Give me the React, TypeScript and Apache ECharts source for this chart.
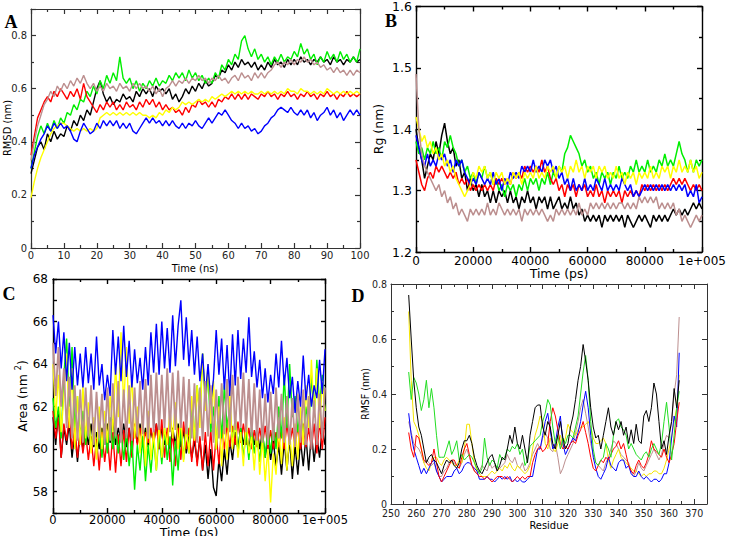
import React, { useEffect, useRef } from 'react';
import * as echarts from 'echarts';

// ---------------- Panel A : RMSD (nm) vs Time (ns), one value per ns ----------------
const A_START = 0;
const A_STEP = 1;
const rmsdBlack = [0.28,0.33,0.38,0.40,0.37,0.43,0.40,0.44,0.41,0.43,
 0.42,0.46,0.44,0.48,0.46,0.50,0.48,0.52,0.50,0.55,
 0.60,0.63,0.58,0.55,0.57,0.54,0.56,0.55,0.58,0.56,
 0.57,0.55,0.59,0.57,0.60,0.58,0.60,0.57,0.61,0.59,
 0.60,0.58,0.60,0.56,0.58,0.55,0.57,0.60,0.58,0.61,
 0.59,0.62,0.60,0.63,0.61,0.62,0.65,0.64,0.67,0.66,
 0.69,0.67,0.70,0.68,0.71,0.69,0.70,0.68,0.70,0.67,
 0.69,0.67,0.70,0.68,0.71,0.69,0.70,0.68,0.71,0.69,
 0.71,0.69,0.72,0.70,0.71,0.69,0.71,0.70,0.72,0.70,
 0.71,0.69,0.72,0.70,0.71,0.69,0.71,0.70,0.72,0.70,
 0.71];
const rmsdGreen = [0.30,0.36,0.42,0.46,0.43,0.47,0.44,0.48,0.45,0.49,
 0.47,0.51,0.50,0.54,0.52,0.56,0.55,0.59,0.57,0.61,
 0.58,0.63,0.60,0.65,0.62,0.66,0.63,0.72,0.64,0.62,
 0.64,0.60,0.63,0.59,0.62,0.60,0.63,0.61,0.64,0.61,
 0.63,0.62,0.65,0.63,0.66,0.64,0.66,0.63,0.67,0.64,
 0.66,0.63,0.65,0.62,0.64,0.62,0.66,0.64,0.69,0.67,
 0.71,0.69,0.73,0.71,0.78,0.80,0.75,0.72,0.75,0.71,
 0.73,0.70,0.72,0.69,0.72,0.70,0.73,0.70,0.72,0.71,
 0.74,0.72,0.77,0.73,0.75,0.71,0.73,0.69,0.72,0.70,
 0.74,0.71,0.73,0.70,0.74,0.71,0.73,0.70,0.72,0.70,
 0.75];
const rmsdBrown = [0.33,0.40,0.46,0.50,0.54,0.56,0.59,0.57,0.61,0.59,
 0.62,0.60,0.63,0.61,0.64,0.62,0.65,0.62,0.60,0.62,
 0.59,0.61,0.59,0.62,0.60,0.61,0.59,0.62,0.60,0.61,
 0.59,0.62,0.60,0.62,0.60,0.61,0.59,0.61,0.58,0.60,
 0.57,0.60,0.61,0.63,0.61,0.63,0.62,0.64,0.62,0.64,
 0.63,0.65,0.63,0.64,0.62,0.64,0.63,0.65,0.63,0.64,
 0.62,0.64,0.65,0.63,0.66,0.64,0.65,0.63,0.66,0.64,
 0.66,0.64,0.66,0.67,0.69,0.70,0.68,0.70,0.69,0.71,
 0.69,0.71,0.70,0.72,0.70,0.71,0.69,0.70,0.68,0.69,
 0.67,0.68,0.66,0.68,0.66,0.67,0.65,0.67,0.65,0.67,
 0.66];
const rmsdRed = [0.35,0.42,0.49,0.52,0.55,0.57,0.55,0.59,0.57,0.60,
 0.58,0.56,0.59,0.57,0.60,0.56,0.62,0.57,0.55,0.53,
 0.51,0.54,0.52,0.55,0.53,0.55,0.52,0.54,0.52,0.55,
 0.53,0.54,0.52,0.55,0.53,0.56,0.54,0.56,0.53,0.55,
 0.52,0.54,0.52,0.53,0.51,0.52,0.50,0.53,0.51,0.54,
 0.53,0.56,0.54,0.55,0.53,0.55,0.53,0.56,0.55,0.57,
 0.56,0.58,0.56,0.58,0.56,0.58,0.56,0.58,0.57,0.56,
 0.58,0.57,0.59,0.57,0.58,0.56,0.58,0.57,0.59,0.57,
 0.58,0.56,0.58,0.57,0.59,0.57,0.58,0.56,0.58,0.57,
 0.59,0.57,0.58,0.56,0.58,0.57,0.59,0.57,0.58,0.57,
 0.58];
const rmsdYellow = [0.19,0.25,0.30,0.34,0.37,0.40,0.43,0.45,0.46,0.47,
 0.47,0.46,0.45,0.44,0.45,0.44,0.45,0.44,0.45,0.44,
 0.45,0.49,0.50,0.51,0.50,0.51,0.50,0.51,0.50,0.51,
 0.50,0.51,0.50,0.51,0.50,0.50,0.49,0.50,0.49,0.51,
 0.50,0.52,0.51,0.53,0.52,0.53,0.55,0.54,0.55,0.54,
 0.55,0.56,0.55,0.56,0.55,0.57,0.56,0.57,0.58,0.57,
 0.58,0.59,0.58,0.59,0.58,0.59,0.58,0.59,0.58,0.58,
 0.59,0.58,0.59,0.58,0.59,0.58,0.59,0.58,0.60,0.59,
 0.59,0.58,0.60,0.59,0.59,0.58,0.59,0.58,0.59,0.58,
 0.60,0.59,0.58,0.59,0.58,0.59,0.58,0.59,0.58,0.59,
 0.58];
const rmsdBlue = [0.30,0.35,0.38,0.41,0.43,0.46,0.44,0.47,0.45,0.47,
 0.45,0.46,0.44,0.41,0.40,0.44,0.47,0.45,0.43,0.44,
 0.47,0.45,0.48,0.46,0.48,0.46,0.48,0.45,0.47,0.45,
 0.47,0.44,0.43,0.45,0.47,0.49,0.47,0.49,0.47,0.48,
 0.46,0.48,0.46,0.48,0.46,0.45,0.47,0.45,0.47,0.46,
 0.48,0.46,0.45,0.47,0.49,0.47,0.49,0.51,0.50,0.52,
 0.50,0.48,0.47,0.45,0.47,0.45,0.46,0.44,0.45,0.43,
 0.44,0.46,0.47,0.49,0.50,0.52,0.53,0.52,0.51,0.53,
 0.51,0.50,0.52,0.50,0.52,0.49,0.51,0.48,0.50,0.51,
 0.53,0.50,0.52,0.49,0.51,0.48,0.50,0.52,0.50,0.52,
 0.50];

// ---------------- Panel B : Rg (nm) vs Time (ps), one value per 1000 ps ----------------
const B_START = 0;
const B_STEP = 1000;
const rgBlack = [1.40,1.37,1.35,1.32,1.34,1.36,1.35,1.38,1.36,1.39,
 1.41,1.38,1.36,1.37,1.34,1.35,1.32,1.33,1.30,1.32,
 1.30,1.31,1.29,1.31,1.29,1.30,1.28,1.30,1.28,1.30,
 1.29,1.30,1.28,1.30,1.28,1.29,1.27,1.29,1.28,1.30,
 1.28,1.29,1.27,1.29,1.28,1.29,1.27,1.29,1.27,1.28,
 1.29,1.27,1.28,1.27,1.29,1.27,1.28,1.26,1.27,1.25,
 1.26,1.25,1.26,1.25,1.26,1.24,1.26,1.25,1.26,1.25,
 1.26,1.25,1.26,1.24,1.26,1.25,1.24,1.25,1.26,1.25,
 1.26,1.25,1.24,1.26,1.25,1.26,1.25,1.26,1.25,1.26,
 1.27,1.26,1.27,1.26,1.27,1.26,1.27,1.28,1.27,1.28,
 1.27];
const rgGreen = [1.38,1.36,1.37,1.35,1.37,1.36,1.38,1.36,1.37,1.35,
 1.38,1.37,1.39,1.37,1.36,1.34,1.35,1.33,1.34,1.32,
 1.33,1.31,1.33,1.32,1.34,1.32,1.33,1.31,1.32,1.30,
 1.31,1.29,1.31,1.30,1.31,1.29,1.31,1.30,1.32,1.30,
 1.32,1.31,1.32,1.30,1.32,1.31,1.33,1.31,1.33,1.32,
 1.34,1.33,1.36,1.37,1.39,1.38,1.37,1.36,1.34,1.35,
 1.33,1.34,1.32,1.33,1.31,1.33,1.32,1.33,1.31,1.33,
 1.32,1.34,1.32,1.33,1.32,1.34,1.33,1.35,1.33,1.34,
 1.33,1.35,1.33,1.34,1.33,1.35,1.34,1.36,1.34,1.35,
 1.34,1.36,1.38,1.36,1.35,1.33,1.35,1.33,1.35,1.34,
 1.35];
const rgYellow = [1.42,1.40,1.38,1.39,1.37,1.38,1.36,1.37,1.35,1.36,
 1.34,1.35,1.33,1.34,1.32,1.31,1.30,1.29,1.30,1.31,
 1.33,1.32,1.34,1.33,1.34,1.32,1.33,1.31,1.33,1.32,
 1.33,1.31,1.32,1.31,1.33,1.32,1.33,1.31,1.33,1.32,
 1.33,1.32,1.34,1.32,1.33,1.32,1.34,1.33,1.34,1.32,
 1.34,1.33,1.34,1.32,1.34,1.33,1.35,1.33,1.34,1.32,
 1.34,1.33,1.34,1.32,1.34,1.33,1.34,1.32,1.33,1.32,
 1.34,1.32,1.33,1.31,1.33,1.32,1.33,1.31,1.33,1.32,
 1.33,1.32,1.34,1.32,1.33,1.32,1.34,1.33,1.34,1.32,
 1.34,1.33,1.35,1.33,1.34,1.33,1.35,1.33,1.34,1.32,
 1.33];
const rgBlue = [1.39,1.37,1.35,1.34,1.36,1.34,1.35,1.34,1.36,1.35,
 1.36,1.34,1.35,1.33,1.35,1.34,1.35,1.33,1.32,1.31,
 1.32,1.31,1.33,1.32,1.31,1.32,1.31,1.33,1.31,1.32,
 1.30,1.32,1.31,1.33,1.32,1.33,1.32,1.34,1.33,1.34,
 1.33,1.35,1.33,1.34,1.33,1.35,1.34,1.35,1.33,1.34,
 1.32,1.33,1.31,1.32,1.30,1.32,1.30,1.31,1.30,1.32,
 1.30,1.31,1.30,1.32,1.31,1.30,1.32,1.30,1.31,1.30,
 1.31,1.30,1.32,1.31,1.30,1.31,1.29,1.30,1.29,1.30,
 1.31,1.30,1.31,1.30,1.31,1.30,1.31,1.30,1.31,1.30,
 1.31,1.30,1.31,1.30,1.31,1.29,1.30,1.29,1.31,1.28,
 1.29];
const rgRed = [1.35,1.33,1.31,1.30,1.32,1.33,1.32,1.34,1.33,1.34,
 1.33,1.32,1.33,1.32,1.33,1.31,1.32,1.31,1.32,1.30,
 1.31,1.30,1.31,1.30,1.31,1.30,1.31,1.30,1.32,1.31,
 1.32,1.31,1.32,1.31,1.33,1.32,1.33,1.32,1.34,1.33,
 1.34,1.33,1.34,1.33,1.35,1.33,1.34,1.32,1.31,1.32,
 1.30,1.31,1.29,1.31,1.30,1.31,1.29,1.31,1.30,1.31,
 1.29,1.30,1.29,1.31,1.29,1.30,1.28,1.30,1.29,1.30,
 1.29,1.30,1.28,1.30,1.29,1.30,1.29,1.30,1.29,1.31,
 1.30,1.31,1.30,1.31,1.30,1.31,1.30,1.31,1.30,1.31,
 1.32,1.31,1.32,1.31,1.32,1.31,1.30,1.31,1.30,1.31,
 1.30];
const rgBrown = [1.49,1.40,1.36,1.34,1.33,1.32,1.31,1.30,1.31,1.29,
 1.30,1.28,1.29,1.27,1.28,1.26,1.27,1.26,1.25,1.27,
 1.26,1.27,1.26,1.27,1.26,1.28,1.26,1.27,1.26,1.28,
 1.27,1.26,1.27,1.26,1.27,1.26,1.27,1.25,1.27,1.26,
 1.27,1.26,1.27,1.26,1.27,1.26,1.25,1.26,1.25,1.27,
 1.26,1.27,1.26,1.27,1.26,1.27,1.26,1.28,1.26,1.27,
 1.26,1.28,1.27,1.28,1.27,1.28,1.27,1.28,1.27,1.28,
 1.27,1.28,1.28,1.27,1.28,1.27,1.28,1.27,1.29,1.28,
 1.29,1.28,1.29,1.28,1.29,1.27,1.28,1.27,1.28,1.27,
 1.28,1.26,1.27,1.25,1.26,1.25,1.24,1.25,1.26,1.25,
 1.26];

// ---------------- Panel C : SASA area (nm^2) vs Time (ps), one value per 1000 ps ----------------
const C_START = 0;
const C_STEP = 1000;
const areaBlue = [66.3,64.5,66.0,63.8,65.5,63.2,65.0,62.8,64.8,63.0,
 64.5,62.9,64.8,63.1,64.5,62.8,65.3,63.0,64.0,62.3,
 63.5,62.5,65.6,63.5,65.3,63.2,65.8,63.4,65.1,62.9,
 64.7,63.1,64.3,62.8,64.8,63.0,65.5,63.6,65.9,63.5,
 66.0,63.8,65.7,63.6,66.3,63.9,65.8,67.0,64.2,66.2,
 63.9,65.6,63.5,65.3,63.2,64.5,62.5,64.0,62.2,63.3,
 65.6,63.5,65.2,62.8,64.9,62.5,65.4,63.0,65.6,63.3,
 65.2,63.6,66.2,63.4,64.6,62.9,64.2,62.4,63.8,62.2,
 63.5,62.6,64.5,62.9,65.1,63.0,64.3,62.4,63.4,61.7,
 63.2,62.0,64.4,62.3,63.5,62.0,63.0,62.4,64.2,62.6,
 64.7];
const areaBrown = [65.0,62.5,64.8,62.0,63.8,61.0,63.4,60.5,63.0,60.4,
 62.8,60.3,62.9,60.6,63.0,60.2,62.7,60.5,62.6,60.2,
 62.9,60.4,63.1,60.6,63.2,60.3,62.8,60.5,63.0,60.4,
 62.9,60.6,63.2,60.7,63.3,60.5,63.5,60.8,63.6,60.9,
 63.5,61.0,63.8,60.8,63.6,60.9,63.7,61.0,63.4,60.7,
 63.3,60.5,63.1,60.3,62.9,60.4,63.2,60.6,63.0,60.3,
 62.8,60.5,63.1,60.7,63.3,60.8,63.5,60.9,63.4,61.0,
 63.6,60.8,63.3,60.6,63.1,60.4,62.8,60.3,62.6,60.2,
 62.7,60.4,62.9,60.5,62.6,60.3,62.5,60.2,62.4,60.1,
 62.6,60.3,62.8,60.2,62.5,60.0,62.3,60.2,62.6,60.5,
 62.9];
const areaYellow = [64.0,61.5,63.5,60.8,62.5,64.5,61.0,63.8,60.0,62.5,
 60.2,63.0,60.5,62.2,59.8,61.5,59.5,62.0,60.0,61.8,
 60.3,62.5,60.8,64.0,61.5,65.5,62.0,64.8,61.2,63.5,
 60.5,62.0,59.8,61.5,59.2,61.8,59.5,60.8,59.0,61.2,
 59.6,61.0,60.2,61.8,60.5,62.2,60.0,61.5,59.4,61.0,
 59.8,62.5,60.4,63.0,61.0,64.5,61.8,64.0,61.2,63.2,
 60.0,62.0,59.2,61.5,59.5,62.8,60.0,61.5,59.6,60.8,
 59.2,61.4,59.8,60.6,59.0,61.0,58.8,60.5,58.5,60.0,
 57.5,59.8,58.8,61.0,59.3,61.5,59.0,60.8,59.2,61.2,
 59.5,62.0,60.2,63.0,61.0,64.2,61.5,63.8,61.0,63.2,
 61.8];
const areaRed = [61.8,60.5,61.5,59.6,61.2,60.4,61.5,60.0,61.0,59.6,
 61.0,59.8,60.8,59.5,60.6,59.2,60.5,59.0,60.8,59.4,
 60.6,59.0,60.8,58.9,60.7,59.2,60.9,59.4,61.0,59.6,
 61.2,60.2,61.0,60.1,60.8,60.3,61.0,60.2,61.2,60.0,
 61.4,59.6,61.0,59.4,60.8,59.2,61.0,59.5,61.3,60.0,
 61.0,59.4,60.8,59.2,60.6,59.0,60.8,59.2,60.9,59.0,
 60.7,59.3,61.0,60.0,61.2,60.1,61.1,60.2,61.3,60.3,
 61.2,60.2,61.0,60.0,60.9,60.1,61.0,60.2,61.1,60.0,
 60.9,60.0,60.8,60.1,61.0,60.0,61.2,60.2,61.0,60.1,
 61.1,60.0,61.2,60.1,61.0,60.0,61.2,59.8,61.3,60.0,
 61.5];
const areaGreen = [62.4,61.0,62.0,60.5,63.5,65.2,62.0,64.8,61.0,62.5,
 60.5,61.8,60.2,61.5,60.0,61.2,59.8,61.0,59.6,61.2,
 59.8,61.5,60.0,61.0,59.8,60.9,59.5,60.8,59.2,60.5,
 58.1,60.2,59.0,60.6,58.5,60.2,58.9,60.5,59.0,60.8,
 59.3,61.0,59.5,60.6,58.3,60.4,59.0,61.0,59.5,61.2,
 59.8,62.0,60.5,63.0,61.5,64.5,62.0,63.5,60.8,62.0,
 60.0,62.5,60.5,63.0,61.0,62.0,60.2,61.5,59.8,61.0,
 59.6,60.8,59.5,61.0,59.8,60.6,59.4,60.8,59.6,61.0,
 59.8,61.2,60.0,62.0,60.5,63.5,61.0,64.0,61.5,62.5,
 60.8,61.8,60.5,62.0,61.0,63.5,61.5,64.2,62.0,63.5,
 61.8];
const areaBlack = [61.5,60.2,61.8,59.6,61.0,60.2,61.2,59.6,60.8,59.4,
 60.8,60.0,61.0,60.2,61.2,60.1,60.8,60.0,61.0,60.2,
 61.2,60.3,61.4,60.2,61.0,60.4,61.2,60.1,61.0,60.2,
 61.0,60.3,61.2,60.2,61.0,60.1,60.9,60.3,61.2,60.0,
 61.0,60.2,60.8,60.0,61.0,60.2,61.2,60.1,60.9,59.8,
 60.6,59.6,60.4,59.4,60.5,59.0,60.2,58.6,60.0,58.2,
 57.8,59.5,58.5,60.0,58.8,60.4,59.5,60.8,60.0,61.0,
 60.2,61.0,60.0,60.8,60.2,61.0,60.0,60.8,59.6,60.6,
 59.5,60.4,59.2,60.2,58.8,60.4,59.0,60.5,58.6,60.2,
 58.8,60.4,59.2,60.6,59.0,60.8,59.4,60.6,59.6,61.0,
 60.2];

// ---------------- Panel D : RMSF (nm) per residue, residues 257..364 ----------------
const D_START = 257;
const D_STEP = 1;
const rmsfBlack = [0.76,0.60,0.45,0.35,0.28,0.25,0.20,0.15,0.17,0.18,
 0.16,0.15,0.13,0.11,0.14,0.16,0.15,0.16,0.14,0.13,
 0.15,0.20,0.23,0.23,0.25,0.22,0.17,0.14,0.12,0.11,
 0.13,0.15,0.17,0.18,0.15,0.12,0.14,0.17,0.16,0.20,
 0.25,0.22,0.28,0.22,0.20,0.25,0.20,0.15,0.25,0.30,
 0.35,0.36,0.36,0.28,0.25,0.30,0.28,0.22,0.20,0.25,
 0.30,0.24,0.20,0.22,0.28,0.32,0.38,0.45,0.50,0.58,
 0.52,0.45,0.35,0.28,0.24,0.25,0.20,0.25,0.30,0.35,
 0.28,0.25,0.30,0.27,0.30,0.25,0.28,0.22,0.27,0.22,
 0.29,0.23,0.22,0.32,0.34,0.30,0.35,0.44,0.40,0.30,
 0.20,0.23,0.18,0.25,0.30,0.42,0.35,0.45];
const rmsfGreen = [0.48,0.38,0.46,0.44,0.40,0.34,0.38,0.45,0.35,0.42,
 0.35,0.25,0.17,0.17,0.17,0.20,0.23,0.18,0.20,0.23,
 0.16,0.18,0.16,0.17,0.18,0.17,0.15,0.13,0.11,0.13,
 0.24,0.17,0.14,0.16,0.15,0.13,0.18,0.16,0.17,0.20,
 0.19,0.21,0.20,0.22,0.18,0.20,0.14,0.16,0.21,0.22,
 0.23,0.24,0.25,0.30,0.33,0.38,0.36,0.28,0.22,0.25,
 0.20,0.24,0.22,0.25,0.25,0.24,0.28,0.32,0.40,0.48,
 0.54,0.45,0.30,0.20,0.15,0.14,0.16,0.17,0.22,0.20,
 0.17,0.25,0.30,0.31,0.28,0.27,0.25,0.20,0.22,0.20,
 0.18,0.17,0.16,0.18,0.19,0.17,0.20,0.22,0.20,0.18,
 0.22,0.30,0.37,0.28,0.16,0.25,0.35,0.41];
const rmsfYellow = [0.70,0.45,0.30,0.28,0.25,0.20,0.15,0.13,0.12,0.15,
 0.17,0.17,0.15,0.14,0.16,0.17,0.16,0.15,0.14,0.14,
 0.16,0.15,0.20,0.29,0.29,0.22,0.15,0.12,0.11,0.10,
 0.10,0.10,0.11,0.12,0.11,0.12,0.13,0.12,0.14,0.13,
 0.15,0.13,0.12,0.14,0.13,0.12,0.11,0.12,0.14,0.20,
 0.25,0.28,0.32,0.30,0.22,0.20,0.24,0.20,0.19,0.22,
 0.25,0.21,0.24,0.29,0.27,0.26,0.25,0.27,0.28,0.28,
 0.29,0.30,0.28,0.24,0.22,0.22,0.23,0.24,0.22,0.16,
 0.13,0.16,0.18,0.20,0.17,0.16,0.15,0.14,0.13,0.12,
 0.12,0.11,0.10,0.11,0.10,0.11,0.11,0.12,0.12,0.11,
 0.11,0.13,0.16,0.20,0.24,0.30,0.35,0.47];
const rmsfBlue = [0.33,0.25,0.20,0.17,0.14,0.11,0.13,0.11,0.13,0.15,
 0.16,0.12,0.10,0.08,0.09,0.10,0.10,0.10,0.12,0.13,
 0.11,0.12,0.14,0.15,0.15,0.14,0.13,0.12,0.09,0.09,
 0.09,0.10,0.09,0.09,0.08,0.09,0.10,0.09,0.10,0.09,
 0.10,0.08,0.09,0.08,0.09,0.08,0.08,0.09,0.10,0.10,
 0.15,0.20,0.20,0.25,0.30,0.33,0.27,0.20,0.22,0.28,
 0.32,0.22,0.18,0.20,0.22,0.24,0.23,0.26,0.30,0.36,
 0.41,0.35,0.25,0.17,0.13,0.10,0.09,0.11,0.13,0.17,
 0.14,0.13,0.12,0.15,0.16,0.16,0.13,0.14,0.11,0.10,
 0.10,0.12,0.10,0.09,0.10,0.09,0.08,0.09,0.09,0.08,
 0.09,0.11,0.11,0.15,0.24,0.32,0.28,0.55];
const rmsfRed = [0.26,0.20,0.17,0.25,0.24,0.20,0.16,0.15,0.14,0.15,
 0.20,0.15,0.10,0.08,0.10,0.12,0.14,0.16,0.16,0.14,
 0.13,0.17,0.20,0.22,0.18,0.14,0.12,0.11,0.10,0.10,
 0.09,0.10,0.09,0.08,0.09,0.10,0.10,0.10,0.09,0.10,
 0.09,0.08,0.09,0.10,0.09,0.10,0.09,0.10,0.10,0.15,
 0.18,0.20,0.21,0.19,0.20,0.22,0.30,0.35,0.32,0.27,
 0.22,0.20,0.21,0.20,0.22,0.23,0.22,0.25,0.27,0.30,
 0.26,0.22,0.17,0.13,0.12,0.14,0.16,0.15,0.17,0.16,
 0.18,0.20,0.21,0.23,0.20,0.22,0.18,0.14,0.12,0.11,
 0.14,0.16,0.14,0.13,0.15,0.18,0.23,0.20,0.19,0.18,
 0.17,0.20,0.17,0.15,0.18,0.22,0.30,0.37];
const rmsfBrown = [0.30,0.26,0.22,0.21,0.20,0.18,0.15,0.16,0.15,0.14,
 0.15,0.12,0.10,0.10,0.12,0.13,0.15,0.16,0.15,0.14,
 0.13,0.15,0.18,0.20,0.17,0.14,0.12,0.11,0.12,0.14,
 0.13,0.12,0.15,0.13,0.14,0.12,0.13,0.14,0.15,0.18,
 0.16,0.15,0.17,0.14,0.13,0.15,0.12,0.13,0.15,0.18,
 0.20,0.22,0.20,0.24,0.26,0.24,0.20,0.19,0.22,0.17,
 0.11,0.13,0.16,0.18,0.20,0.22,0.26,0.30,0.35,0.38,
 0.33,0.28,0.22,0.18,0.15,0.14,0.13,0.12,0.15,0.17,
 0.20,0.23,0.22,0.20,0.18,0.17,0.16,0.15,0.12,0.10,
 0.12,0.15,0.13,0.12,0.14,0.16,0.18,0.20,0.18,0.16,
 0.18,0.22,0.25,0.24,0.30,0.40,0.47,0.68];

// ---------------- styling ----------------
const COLORS = {
  black: '#000000', red: '#ff0000', green: '#00ee00', blue: '#0000ff', yellow: '#ffff00', brown: '#bc8f8f',
};
const NARROW = "'Liberation Sans Narrow','DejaVu Sans Condensed','Liberation Sans',sans-serif";
const WIDE = "'DejaVu Sans',Verdana,sans-serif";
const SERIF = "'Liberation Serif','Times New Roman',serif";

const seq = (vals: number[], start: number, step: number) => vals.map((v, i) => [start + i * step, v]);
const fmtBig = (v: number) => (v === 100000 ? '1e+005' : String(v));

type AxOpt = {
  grid: number; pos: string; min: number; max: number; interval: number; minor?: number;
  color: string; lw: number; tick?: number; minorLen?: number; label?: any;
};
const axis = (o: AxOpt) => ({
  type: 'value',
  gridIndex: o.grid,
  position: o.pos,
  min: o.min,
  max: o.max,
  interval: o.interval,
  axisLine: { show: true, onZero: false, lineStyle: { color: o.color, width: o.lw } },
  axisTick: { show: true, inside: true, length: o.tick ?? 5, lineStyle: { color: o.color, width: o.lw } },
  minorTick: { show: !!o.minor, splitNumber: o.minor || 5, length: o.minorLen ?? 3, lineStyle: { color: o.color, width: o.lw } },
  splitLine: { show: false },
  minorSplitLine: { show: false },
  axisLabel: o.label ? { show: true, ...o.label } : { show: false },
});

// each panel p owns xAxis/yAxis index 2p (bottom/left); 2p+1 are the mirrored top/right axes
const line = (panel: number, data: number[][], color: string, width: number) => ({
  type: 'line',
  xAxisIndex: panel * 2,
  yAxisIndex: panel * 2,
  data,
  symbol: 'none',
  showSymbol: false,
  silent: true,
  clip: true,
  lineStyle: { color, width },
});

export default function App() {
  const ref = useRef<HTMLDivElement>(null);
  useEffect(() => {
    if (!ref.current) return;
    const chart = echarts.init(ref.current, null, { renderer: 'svg' });

    const cA = '#333333';
    const cD = '#333333';
    const labA = { fontSize: 11, fontFamily: NARROW, color: '#222' };
    const labB = { fontSize: 12, fontFamily: WIDE, color: '#000' };
    const labD = { fontSize: 10.5, fontFamily: NARROW, color: '#222' };

    const xAxis = [
      axis({ grid: 0, pos: 'bottom', min: 0, max: 100, interval: 10, minor: 2, color: cA, lw: 1.2, label: { ...labA, margin: 2 } }),
      axis({ grid: 0, pos: 'top', min: 0, max: 100, interval: 10, minor: 2, color: cA, lw: 1.2 }),
      axis({ grid: 1, pos: 'bottom', min: 0, max: 100000, interval: 20000, minor: 2, color: '#000', lw: 1.4, label: { ...labB, margin: 3, formatter: fmtBig } }),
      axis({ grid: 1, pos: 'top', min: 0, max: 100000, interval: 20000, minor: 2, color: '#000', lw: 1.4 }),
      axis({ grid: 2, pos: 'bottom', min: 0, max: 100000, interval: 20000, minor: 2, color: '#000', lw: 1.4, label: { ...labB, fontSize: 11.5, margin: 1, formatter: fmtBig } }),
      axis({ grid: 2, pos: 'top', min: 0, max: 100000, interval: 20000, minor: 2, color: '#000', lw: 1.4 }),
      axis({ grid: 3, pos: 'bottom', min: 250, max: 375, interval: 10, minor: 2, color: cD, lw: 1, label: { ...labD, margin: 3, showMaxLabel: false } }),
      axis({ grid: 3, pos: 'top', min: 250, max: 375, interval: 10, minor: 2, color: cD, lw: 1 }),
    ];
    const yAxis = [
      axis({ grid: 0, pos: 'left', min: 0, max: 0.9, interval: 0.2, minor: 2, color: cA, lw: 1.2, label: { ...labA, margin: 4, showMaxLabel: false, formatter: (v: number) => (v === 0 ? '0' : v.toFixed(1)) } }),
      axis({ grid: 0, pos: 'right', min: 0, max: 0.9, interval: 0.2, minor: 2, color: cA, lw: 1.2 }),
      axis({ grid: 1, pos: 'left', min: 1.2, max: 1.6, interval: 0.1, minor: 2, color: '#000', lw: 1.4, label: { ...labB, fontSize: 12.5, margin: 4, formatter: (v: number) => v.toFixed(1) } }),
      axis({ grid: 1, pos: 'right', min: 1.2, max: 1.6, interval: 0.1, minor: 2, color: '#000', lw: 1.4 }),
      axis({ grid: 2, pos: 'left', min: 57, max: 68, interval: 1, color: '#000', lw: 1.4, tick: 4, label: { ...labB, margin: 5, formatter: (v: number) => (Math.round(v) % 2 === 0 ? String(Math.round(v)) : '') } }),
      axis({ grid: 2, pos: 'right', min: 57, max: 68, interval: 1, color: '#000', lw: 1.4, tick: 4 }),
      axis({ grid: 3, pos: 'left', min: 0, max: 0.8, interval: 0.2, minor: 2, color: cD, lw: 1, label: { ...labD, margin: 4, formatter: (v: number) => (v === 0 ? '0' : v.toFixed(1)) } }),
      axis({ grid: 3, pos: 'right', min: 0, max: 0.8, interval: 0.2, minor: 2, color: cD, lw: 1 }),
    ];

    const grid = [
      { left: 31, top: 9, width: 329, height: 239 },
      { left: 416, top: 6, width: 286, height: 246 },
      { left: 53, top: 279, width: 272, height: 234 },
      { left: 391, top: 284, width: 316, height: 220 },
    ];

    const wA = 1.4, wB = 1.5, wC = 1.4, wD = 1;
    const series = [
      line(0, seq(rmsdBlack, A_START, A_STEP), COLORS.black, wA),
      line(0, seq(rmsdGreen, A_START, A_STEP), COLORS.green, wA),
      line(0, seq(rmsdRed, A_START, A_STEP), COLORS.red, wA),
      line(0, seq(rmsdYellow, A_START, A_STEP), COLORS.yellow, wA),
      line(0, seq(rmsdBlue, A_START, A_STEP), COLORS.blue, wA),
      line(0, seq(rmsdBrown, A_START, A_STEP), COLORS.brown, wA),

      line(1, seq(rgBlack, B_START, B_STEP), COLORS.black, wB),
      line(1, seq(rgGreen, B_START, B_STEP), COLORS.green, wB),
      line(1, seq(rgRed, B_START, B_STEP), COLORS.red, wB),
      line(1, seq(rgBlue, B_START, B_STEP), COLORS.blue, wB),
      line(1, seq(rgYellow, B_START, B_STEP), COLORS.yellow, wB),
      line(1, seq(rgBrown, B_START, B_STEP), COLORS.brown, wB),

      line(2, seq(areaBlack, C_START, C_STEP), COLORS.black, wC),
      line(2, seq(areaRed, C_START, C_STEP), COLORS.red, wC),
      line(2, seq(areaGreen, C_START, C_STEP), COLORS.green, wC),
      line(2, seq(areaYellow, C_START, C_STEP), COLORS.yellow, wC),
      line(2, seq(areaBlue, C_START, C_STEP), COLORS.blue, wC),
      line(2, seq(areaBrown, C_START, C_STEP), COLORS.brown, 1.8),

      line(3, seq(rmsfBrown, D_START, D_STEP), COLORS.brown, wD),
      line(3, seq(rmsfYellow, D_START, D_STEP), '#f5e400', wD),
      line(3, seq(rmsfBlue, D_START, D_STEP), COLORS.blue, wD),
      line(3, seq(rmsfRed, D_START, D_STEP), COLORS.red, wD),
      line(3, seq(rmsfGreen, D_START, D_STEP), '#22dd22', wD),
      line(3, seq(rmsfBlack, D_START, D_STEP), COLORS.black, wD),
    ];

    const txt = (text: string, x: number, y: number, font: string, rotation = 0, fill = '#000') => ({
      type: 'text', x, y, rotation, silent: true,
      style: { text, font, fill, textAlign: 'center', textVerticalAlign: 'middle' },
    });

    const graphic = [
      txt('A', 11, 22, `bold 18px ${SERIF}`),
      txt('B', 391, 21, `bold 18px ${SERIF}`),
      txt('C', 9, 294, `bold 18px ${SERIF}`),
      txt('D', 358, 296, `bold 18px ${SERIF}`),
      txt('Time (ns)', 195, 268, `11px ${NARROW}`),
      txt('RMSD (nm)', 7, 128, `11px ${NARROW}`, Math.PI / 2),
      txt('Time (ps)', 559, 273, `12.5px ${WIDE}`),
      txt('Rg (nm)', 378, 129, `12.5px ${WIDE}`, Math.PI / 2),
      txt('Time (ps)', 189, 532, `12.5px ${WIDE}`),
      {
        type: 'text', x: 22, y: 396, rotation: Math.PI / 2, silent: true,
        style: {
          text: '{a|Area (nm }{s|2}{a|)}',
          textAlign: 'center', textVerticalAlign: 'middle',
          rich: {
            a: { fontSize: 12.5, fontFamily: WIDE, fill: '#000', lineHeight: 16 },
            s: { fontSize: 8, fontFamily: WIDE, fill: '#000', verticalAlign: 'top', lineHeight: 16 },
          },
        },
      },
      txt('Residue', 549, 525, `11px ${NARROW}`),
      txt('RMSF (nm)', 365, 394, `10.5px ${NARROW}`, Math.PI / 2),
    ];

    chart.setOption({
      animation: false,
      backgroundColor: '#ffffff',
      grid,
      xAxis,
      yAxis,
      series,
      graphic,
    });
    return () => chart.dispose();
  }, []);

  return (
    <div
      ref={ref}
      style={{ position: 'fixed', left: 0, top: 0, width: 729, height: 536, background: '#fff' }}
    />
  );
}
